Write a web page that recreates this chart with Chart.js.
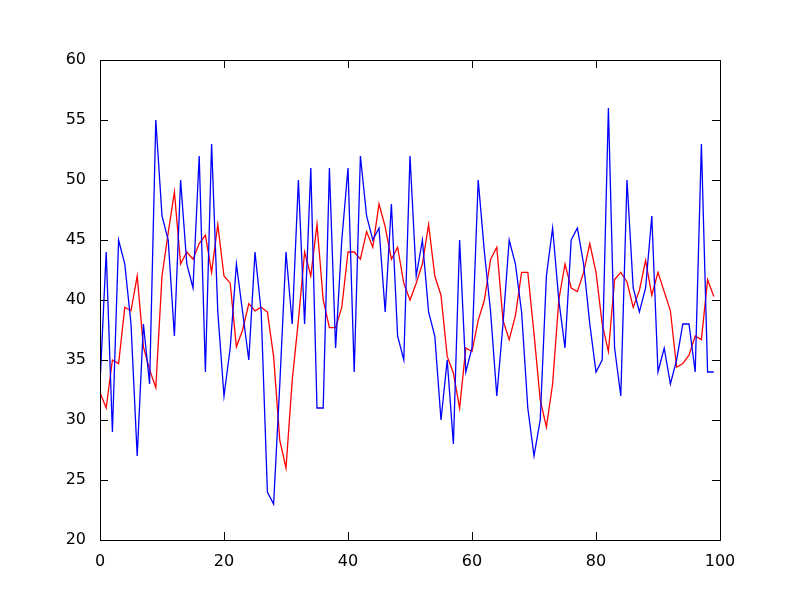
<!DOCTYPE html>
<html>
<head>
<meta charset="utf-8">
<script src="https://cdn.jsdelivr.net/npm/chart.js@4/dist/chart.umd.min.js"></script>
<style>
  html, body { margin: 0; padding: 0; background: #fff; }
  #wrap { width: 800px; height: 600px; }
</style>
</head>
<body>
<div id="wrap"><canvas id="chart" width="800" height="600"></canvas></div>
<script>
const blueValues = [33, 44, 29, 45, 43, 38, 27, 38, 33, 55, 47, 45, 37, 50, 43, 41, 52, 34, 53, 39,
    32, 36, 43, 39, 35, 44, 39, 24, 23, 33, 44, 38, 50, 38, 51, 31, 31, 51, 36, 45,
    51, 34, 52, 47, 45, 46, 39, 48, 37, 35, 52, 42, 45, 39, 37, 30, 35, 28, 45, 34,
    36, 50, 44, 39, 32, 38, 45, 43, 39, 31, 27, 30, 42, 46, 40, 36, 45, 46, 43, 38,
    34, 35, 56, 36, 32, 50, 41, 39, 41, 47, 34, 36, 33, 35, 38, 38, 34, 53, 34, 34];

const redValues = [32.3, 31, 35, 34.7, 39.4, 39.1, 42, 36.1, 34.2, 32.7, 42, 45.6, 49, 43, 44, 43.4, 44.7, 45.4, 42.3, 46.3,
    42, 41.4, 36.1, 37.5, 39.7, 39.1, 39.4, 39, 35.3, 28.3, 26, 33.3, 38.3, 44, 42, 46.3, 40, 37.7, 37.7, 39.4,
    44, 44, 43.4, 45.7, 44.4, 48, 46.1, 43.4, 44.4, 41.4, 40, 41.4, 43, 46.3, 42, 40.4, 35.3, 33.9, 31, 36,
    35.7, 38.3, 40, 43.4, 44.4, 38.3, 36.7, 38.7, 42.3, 42.3, 37.2, 31.7, 29.4, 33, 40, 43, 41, 40.7, 42.3, 44.7,
    42.3, 38, 35.7, 41.7, 42.3, 41.5, 39.4, 40.8, 43.3, 40.4, 42.3, 40.7, 39.1, 34.4, 34.7, 35.4, 37, 36.7, 41.7, 40.3];

const xTicks = [0, 20, 40, 60, 80, 100];
const yTicks = [20, 25, 30, 35, 40, 45, 50, 55, 60];

const toPoints = (values) => values.map((v, i) => ({ x: i, y: v }));

// matplotlib classic look: frame plus inward ticks on all four sides
const framePlugin = {
    id: 'frame',
    afterDraw(chart) {
        const { ctx, chartArea: a, scales } = chart;
        ctx.save();
        ctx.strokeStyle = '#000';
        ctx.lineWidth = 1;
        ctx.beginPath();
        xTicks.forEach(t => {
            const px = Math.round(scales.x.getPixelForValue(t)) + 0.5;
            ctx.moveTo(px, a.bottom); ctx.lineTo(px, a.bottom - 8);
            ctx.moveTo(px, a.top); ctx.lineTo(px, a.top + 8);
        });
        yTicks.forEach(t => {
            const py = Math.round(scales.y.getPixelForValue(t)) + 0.5;
            ctx.moveTo(a.left, py); ctx.lineTo(a.left + 8, py);
            ctx.moveTo(a.right, py); ctx.lineTo(a.right - 8, py);
        });
        ctx.stroke();
        ctx.strokeRect(Math.round(a.left) + 0.5, Math.round(a.top) + 0.5,
            Math.round(a.right - a.left), Math.round(a.bottom - a.top));
        ctx.restore();
    }
};

new Chart(document.getElementById('chart'), {
    type: 'line',
    data: {
        datasets: [
            {
                data: toPoints(blueValues),
                borderColor: '#0000ff',
                borderWidth: 1.3,
                pointRadius: 0,
                tension: 0
            },
            {
                data: toPoints(redValues),
                borderColor: '#ff0000',
                borderWidth: 1.3,
                pointRadius: 0,
                tension: 0
            }
        ]
    },
    options: {
        responsive: false,
        animation: false,
        layout: { padding: { top: 60, right: 80, left: 0, bottom: 0 } },
        plugins: { legend: { display: false }, tooltip: { enabled: false } },
        scales: {
            x: {
                type: 'linear',
                min: 0,
                max: 100,
                afterFit: (s) => { s.height = 60; },
                afterBuildTicks: (s) => { s.ticks = xTicks.map(v => ({ value: v })); },
                grid: { display: false },
                border: { display: false },
                ticks: { color: '#000', font: { family: 'DejaVu Sans', size: 16 }, padding: 4, maxRotation: 0 }
            },
            y: {
                min: 20,
                max: 60,
                afterFit: (s) => { s.width = 100; },
                afterBuildTicks: (s) => { s.ticks = yTicks.map(v => ({ value: v })); },
                grid: { display: false },
                border: { display: false },
                ticks: { color: '#000', font: { family: 'DejaVu Sans', size: 16 }, padding: 6 }
            }
        }
    },
    plugins: [framePlugin]
});
</script>
</body>
</html>
